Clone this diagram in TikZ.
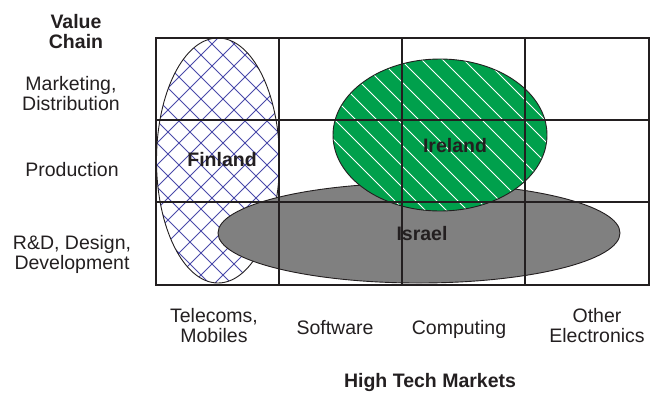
\documentclass[tikz,border=0pt]{standalone}
\usepackage{fontspec}
\setmainfont{Liberation Sans}
\definecolor{ink}{HTML}{231F20}
\definecolor{irgreen}{HTML}{00A04C}
\definecolor{isgray}{HTML}{808080}
\definecolor{hatchblue}{HTML}{4A4AAA}
\tikzset{
  lbl/.style={font=\fontsize{19.5bp}{20bp}\selectfont, text=ink, inner sep=0pt, align=center, anchor=base},
  blbl/.style={lbl, font=\fontsize{19.5bp}{20bp}\selectfont\bfseries},
  gridline/.style={draw=ink, line width=1.1bp},
  outline/.style={draw=ink, line width=0.9bp},
}
\begin{document}
\begin{tikzpicture}[x=1bp,y=-1bp]
\useasboundingbox (0,0) rectangle (662,403);
% Finland
\begin{scope}
  \clip (218,160.5) ellipse [x radius=61.5, y radius=122.5];
  \fill[white] (156,38) rectangle (280,283);
  \foreach \c in {-140,-118,...,290} \draw[hatchblue, line width=0.8bp] (\c,0) -- ++(400,400);
  \foreach \c in {146,168,...,580} \draw[hatchblue, line width=0.8bp] (\c,0) -- ++(-400,400);
\end{scope}
\draw[outline] (218,160.5) ellipse [x radius=61.5, y radius=122.5];
% Israel
\draw[outline, fill=isgray] (419,233) ellipse [x radius=201, y radius=50];
% Ireland
\begin{scope}
  \clip (440,135) ellipse [x radius=107, y radius=76];
  \fill[irgreen] (333,59) rectangle (547,211);
  \foreach \c in {110,131,...,560} \draw[white, line width=0.9bp] (\c,0) -- ++(300,300);
\end{scope}
\draw[outline] (440,135) ellipse [x radius=107, y radius=76];
% grid
\draw[gridline] (156,38) rectangle (649,285);
\foreach \x in {279,402,525} \draw[gridline] (\x,38) -- (\x,285);
\foreach \y in {120,202} \draw[gridline] (156,\y) -- (649,\y);
% region labels
\node[blbl] (fin) at (222,166) {Finland};
\node[blbl] (ire) at (455,152) {Ireland};
\node[blbl] (isr) at (422,240) {Israel};
% value chain labels (base = last line baseline)
\node[blbl] (vc) at (76,48) {Value\\Chain};
\node[lbl] (mkt) at (71,110) {Marketing,\\Distribution};
\node[lbl] (prod) at (72,176) {Production};
\node[lbl] (rd) at (72,269) {R\&D, Design,\\Development};
% market labels
\node[lbl] (tel) at (214,342) {Telecoms,\\Mobiles};
\node[lbl] (sw) at (335,334) {Software};
\node[lbl] (comp) at (459,334) {Computing};
\node[lbl] (oth) at (597,342) {Other\\Electronics};
\node[blbl] (htm) at (430,387) {High Tech Markets};
\end{tikzpicture}
\end{document}
